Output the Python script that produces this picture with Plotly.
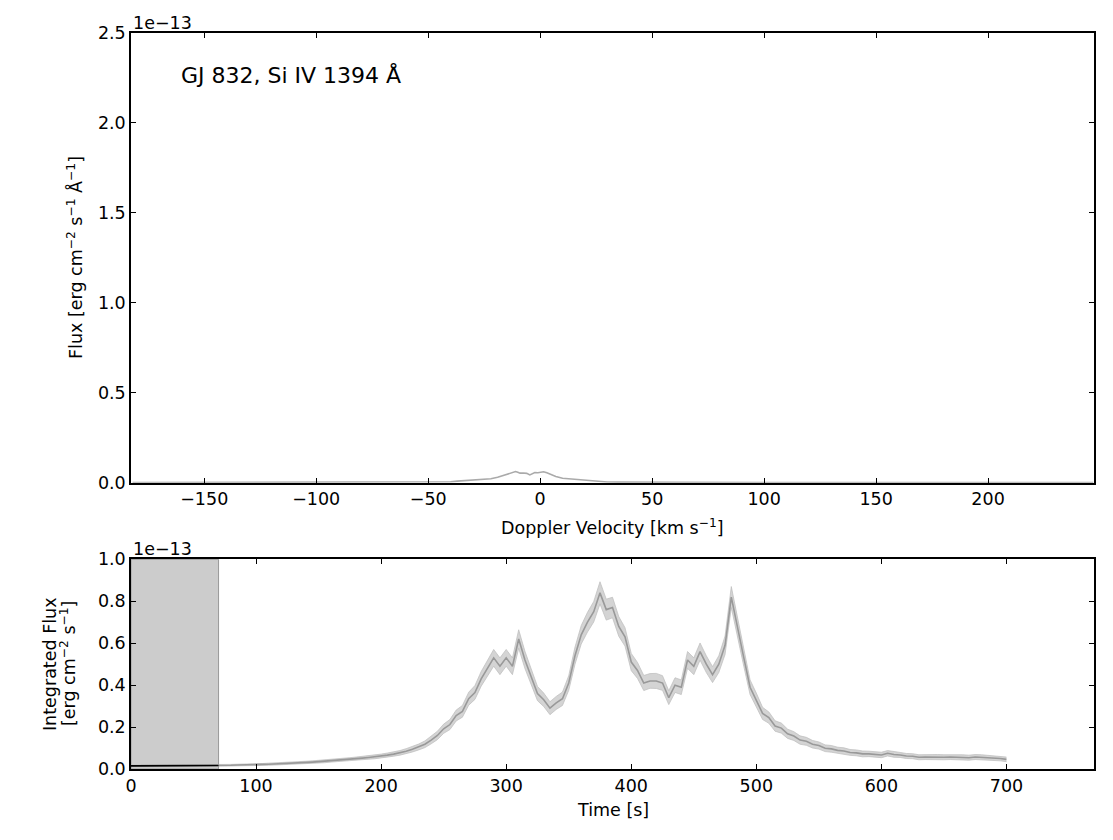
import plotly.graph_objects as go

# ---------------- data ----------------
# Spectrum (flux in units of 1e-13 erg cm^-2 s^-1 A^-1)
velocity_kms = [-182, -150, -100, -60, -45, -40, -37, -33, -29, -25, -22, -19, -16.5,
                -14, -12, -11, -10, -9, -7.5, -6, -4.6, -3.5, -2.4, -1, 0.5, 1.5, 3,
                5, 7, 10, 13, 17.7, 21, 23.7, 26.7, 30, 35, 45, 60, 100, 150, 200, 247]
spec_flux_1e13 = [0.001, 0.001, 0.001, 0.002, 0.003, 0.005, 0.009, 0.012, 0.015, 0.018,
                  0.022, 0.030, 0.040, 0.050, 0.058, 0.062, 0.058, 0.053, 0.054, 0.052,
                  0.043, 0.050, 0.056, 0.055, 0.060, 0.061, 0.055, 0.045, 0.035, 0.025,
                  0.022, 0.020, 0.016, 0.011, 0.007, 0.004, 0.003, 0.002, 0.002, 0.001,
                  0.001, 0.001, 0.001]

# Light curve (integrated flux in units of 1e-13 erg cm^-2 s^-1)
time_s = list(range(0, 705, 5))
lc_flux_1e13 = [
    0.015, 0.015, 0.016, 0.015, 0.016, 0.016, 0.016, 0.017, 0.016, 0.017,
    0.017, 0.017, 0.017, 0.018, 0.017, 0.018, 0.018, 0.019, 0.019, 0.020,
    0.021, 0.022, 0.023, 0.024, 0.025, 0.027, 0.028, 0.030, 0.031, 0.033,
    0.035, 0.037, 0.040, 0.042, 0.044, 0.046, 0.049, 0.052, 0.055, 0.058,
    0.062, 0.066, 0.071, 0.077, 0.085, 0.094, 0.105, 0.118, 0.138, 0.160,
    0.192, 0.212, 0.255, 0.275, 0.335, 0.365, 0.43, 0.48, 0.53, 0.49,
    0.53, 0.49, 0.62, 0.52, 0.44, 0.36, 0.33, 0.29, 0.315, 0.335,
    0.41, 0.54, 0.64, 0.70, 0.75, 0.84, 0.76, 0.77, 0.68, 0.63,
    0.51, 0.47, 0.41, 0.42, 0.42, 0.41, 0.34, 0.40, 0.39, 0.52,
    0.49, 0.56, 0.50, 0.45, 0.50, 0.59, 0.82, 0.67, 0.53, 0.39,
    0.33, 0.265, 0.245, 0.205, 0.195, 0.168, 0.157, 0.138, 0.132, 0.118,
    0.112, 0.099, 0.096, 0.089, 0.086, 0.079, 0.077, 0.072, 0.072, 0.068,
    0.067, 0.075, 0.069, 0.067, 0.062, 0.061, 0.056, 0.057, 0.056, 0.057,
    0.056, 0.057, 0.055, 0.056, 0.054, 0.057, 0.056, 0.054, 0.052, 0.050,
    0.046]
lc_err_1e13 = [
    0.004, 0.004, 0.004, 0.004, 0.004, 0.004, 0.004, 0.004, 0.004, 0.004,
    0.004, 0.004, 0.004, 0.004, 0.004, 0.004, 0.004, 0.004, 0.004, 0.004,
    0.004, 0.004, 0.005, 0.005, 0.005, 0.005, 0.005, 0.006, 0.006, 0.006,
    0.006, 0.007, 0.007, 0.007, 0.007, 0.008, 0.008, 0.008, 0.009, 0.009,
    0.009, 0.010, 0.010, 0.011, 0.012, 0.013, 0.014, 0.016, 0.018, 0.020,
    0.022, 0.024, 0.026, 0.028, 0.031, 0.033, 0.035, 0.038, 0.040, 0.040,
    0.040, 0.040, 0.044, 0.041, 0.037, 0.034, 0.032, 0.031, 0.031, 0.032,
    0.035, 0.041, 0.044, 0.047, 0.049, 0.053, 0.050, 0.049, 0.047, 0.044,
    0.041, 0.038, 0.036, 0.035, 0.036, 0.035, 0.033, 0.035, 0.035, 0.040,
    0.040, 0.041, 0.040, 0.038, 0.040, 0.044, 0.050, 0.047, 0.041, 0.035,
    0.032, 0.029, 0.027, 0.025, 0.024, 0.022, 0.021, 0.020, 0.019, 0.018,
    0.017, 0.016, 0.016, 0.015, 0.015, 0.014, 0.014, 0.014, 0.013, 0.013,
    0.013, 0.013, 0.013, 0.012, 0.012, 0.012, 0.012, 0.012, 0.012, 0.012,
    0.012, 0.012, 0.012, 0.012, 0.012, 0.012, 0.012, 0.011, 0.011, 0.011,
    0.011]
baseline_window_s = [0, 70]

top_yticks = [0.0, 0.5, 1.0, 1.5, 2.0, 2.5]
top_xticks = [-150, -100, -50, 0, 50, 100, 150, 200]
bot_yticks = [0.0, 0.2, 0.4, 0.6, 0.8, 1.0]
bot_xticks = [0, 100, 200, 300, 400, 500, 600, 700]

assert len(time_s) == len(lc_flux_1e13) == len(lc_err_1e13)
assert len(velocity_kms) == len(spec_flux_1e13)

# ---------------- figure ----------------
FONT = "DejaVu Sans"
FS = 17.5
W, H = 1113, 840
OFF = 8  # page offset of the figure in the browser
ML, MR, MT, MB = 131 - OFF, 26.5, 33 - OFF, 79
PW = W - ML - MR
PH = H - MT - MB


def sx(x):  # screen x -> paper x
    return (x - OFF - ML) / PW


def sy(y):  # screen y -> paper y
    return (H - MB - (y - OFF)) / PH


fig = go.Figure()

fig.add_trace(go.Scatter(x=velocity_kms, y=spec_flux_1e13, mode="lines",
                         line=dict(color="#aaaaaa", width=1.6),
                         xaxis="x", yaxis="y", showlegend=False))

upper = [f + e for f, e in zip(lc_flux_1e13, lc_err_1e13)]
lower = [f - e for f, e in zip(lc_flux_1e13, lc_err_1e13)]
fig.add_trace(go.Scatter(x=time_s, y=lower, mode="lines",
                         line=dict(color="#bbbbbb", width=0.7),
                         xaxis="x2", yaxis="y2", showlegend=False))
fig.add_trace(go.Scatter(x=time_s, y=upper, mode="lines", fill="tonexty",
                         fillcolor="rgba(205,205,205,0.85)",
                         line=dict(color="#bbbbbb", width=0.7),
                         xaxis="x2", yaxis="y2", showlegend=False))
fig.add_trace(go.Scatter(x=time_s, y=lc_flux_1e13, mode="lines",
                         line=dict(color="#999999", width=1.6),
                         xaxis="x2", yaxis="y2", showlegend=False))
bt = [t for t in time_s if baseline_window_s[0] <= t <= baseline_window_s[1]]
bf = [f for t, f in zip(time_s, lc_flux_1e13) if baseline_window_s[0] <= t <= baseline_window_s[1]]
fig.add_trace(go.Scatter(x=bt, y=bf, mode="lines",
                         line=dict(color="black", width=1.6),
                         xaxis="x2", yaxis="y2", showlegend=False))

top_dom = [sy(482.7), 1.0]
bot_dom = [0.0, sy(559.3)]

axis_common = dict(showline=True, linecolor="black", linewidth=1.5, mirror="ticks",
                   ticks="inside", ticklen=5, tickwidth=1, tickcolor="black",
                   showgrid=False, zeroline=False,
                   tickfont=dict(family=FONT, size=FS, color="black"))

fig.update_layout(
    width=W, height=H,
    margin=dict(l=ML, r=MR, t=MT, b=MB, autoexpand=False),
    paper_bgcolor="white", plot_bgcolor="white",
    font=dict(family=FONT, size=FS, color="black"),
    xaxis=dict(domain=[0, 1], range=[-182.7, 247.3], tickvals=top_xticks,
               anchor="y", **axis_common),
    yaxis=dict(domain=top_dom, range=[0, 2.5], tickvals=top_yticks,
               ticktext=[f"{v:.1f}" for v in top_yticks], anchor="x", **axis_common),
    xaxis2=dict(domain=[0, 1], range=[0, 770], tickvals=bot_xticks,
                anchor="y2", **axis_common),
    yaxis2=dict(domain=bot_dom, range=[0, 1.0], tickvals=bot_yticks,
                ticktext=[f"{v:.1f}" for v in bot_yticks], anchor="x2", **axis_common),
)

fig.add_shape(type="rect", xref="x2", yref="y2 domain", layer="below",
              x0=baseline_window_s[0], x1=baseline_window_s[1], y0=0, y1=1,
              fillcolor="#cccccc", line=dict(color="#999999", width=1))

ann = []
ann.append(dict(text="GJ 832, Si IV 1394 Å", xref="paper", yref="paper",
                x=sx(179), y=sy(75), xanchor="left", yanchor="middle",
                showarrow=False, font=dict(family=FONT, size=22, color="black")))
ann.append(dict(text="1e−13", xref="paper", yref="paper", x=0, y=1.0,
                xanchor="left", yanchor="bottom", yshift=-2, showarrow=False,
                font=dict(family=FONT, size=FS, color="black")))
ann.append(dict(text="1e−13", xref="paper", yref="paper", x=0, y=bot_dom[1],
                xanchor="left", yanchor="bottom", yshift=-2, showarrow=False,
                font=dict(family=FONT, size=FS, color="black")))
ann.append(dict(text="Flux [erg cm<sup>−2</sup> s<sup>−1</sup> Å<sup>−1</sup>]",
                xref="paper", yref="paper", x=sx(75), y=sy(258),
                xanchor="center", yanchor="middle", textangle=-90, showarrow=False,
                font=dict(family=FONT, size=FS, color="black")))
ann.append(dict(text="Doppler Velocity [km s<sup>−1</sup>]",
                xref="paper", yref="paper", x=0.5, y=sy(527),
                xanchor="center", yanchor="middle", showarrow=False,
                font=dict(family=FONT, size=FS, color="black")))
ann.append(dict(text="Integrated Flux",
                xref="paper", yref="paper", x=sx(50), y=sy(664),
                xanchor="center", yanchor="middle", textangle=-90, showarrow=False,
                font=dict(family=FONT, size=FS, color="black")))
ann.append(dict(text="[erg cm<sup>−2</sup> s<sup>−1</sup>]",
                xref="paper", yref="paper", x=sx(68), y=sy(664),
                xanchor="center", yanchor="middle", textangle=-90, showarrow=False,
                font=dict(family=FONT, size=FS, color="black")))
ann.append(dict(text="Time [s]", xref="paper", yref="paper", x=0.5, y=sy(810),
                xanchor="center", yanchor="middle", showarrow=False,
                font=dict(family=FONT, size=FS, color="black")))
fig.update_layout(annotations=ann)

fig.write_html("out.html")
